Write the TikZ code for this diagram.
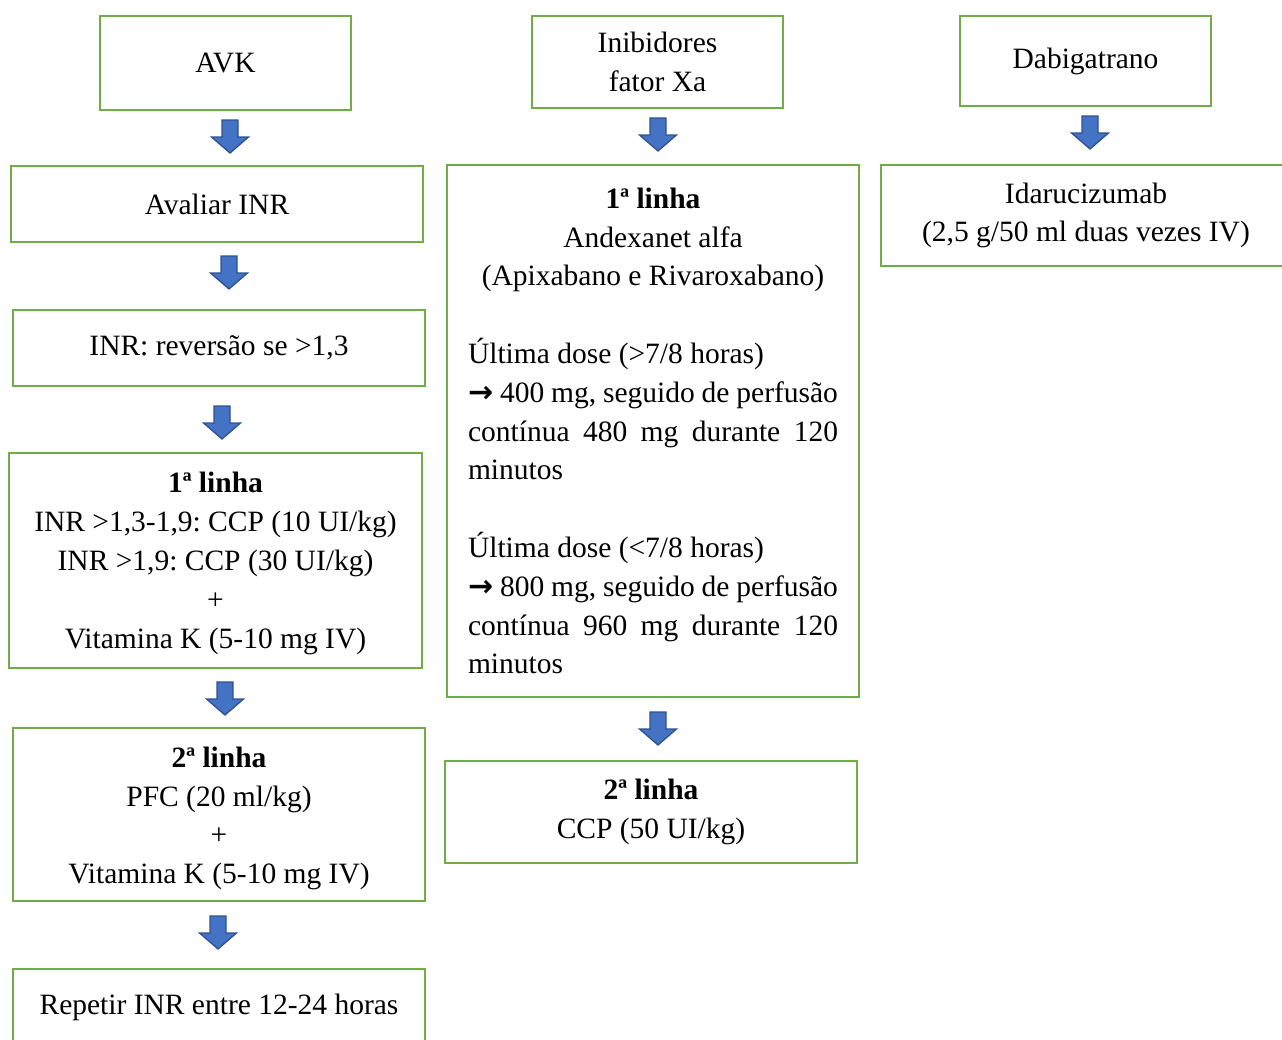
\documentclass[tikz,border=0pt]{standalone}
\usepackage{fontspec}
\usetikzlibrary{calc}
\setmainfont{Liberation Serif}
\newfontfamily\arrowglyph{DejaVu Sans}
\definecolor{boxgreen}{HTML}{70AD47}
\definecolor{arrowfill}{HTML}{4472C4}
\definecolor{arrowline}{HTML}{2F528F}
\newcommand\rarr{{\arrowglyph\bfseries\fontsize{30}{30}\selectfont →}}
\frenchspacing
\begin{document}
\begin{tikzpicture}[x=1pt,y=-1pt,
  steptext/.style={inner sep=0pt,align=center,font=\fontsize{29.5}{38.8}\selectfont},
  stepbox/.style={steptext,draw=boxgreen,line width=2.4pt,rectangle},
  blockarrow/.style={fill=arrowfill,draw=arrowline,line width=1.3pt,line join=miter}]
\useasboundingbox (0,0) rectangle (1282,1039);
\clip (0,0) rectangle (1282,1039);

% down-pointing block arrow: centre x, top y
\newcommand\blockdown[3]{%
  \coordinate (#1) at (#2,#3);
  \draw[blockarrow] ($(#1)+(-8,0)$) -- ++(16,0) -- ++(0,17) -- ++(10.5,0)
    -- ($(#1)+(0,33)$) -- ($(#1)+(-18.5,17)$) -- ++(10.5,0) -- cycle;}

% column 1: AVK
\node[stepbox,minimum width=251pt,minimum height=94pt] (avk) at (225.5,63) {AVK};
\node[stepbox,minimum width=412pt,minimum height=76pt] (avaliar) at (217,204) {Avaliar INR};
\node[stepbox,minimum width=412pt,minimum height=76pt] (reversao) at (219,348) {INR: reversão se >1,3};
\node[stepbox,minimum width=413pt,minimum height=215pt] (avkA) at (215.5,560.5) {};
\node[steptext] (avkAtext) at (215.5,563.5)
  {\textbf{1ª linha}\\INR >1,3-1,9: CCP (10 UI/kg)\\INR >1,9: CCP (30 UI/kg)\\+\\Vitamina K (5-10 mg IV)};
\node[stepbox,minimum width=412pt,minimum height=173pt] (avkB) at (219,814.5) {};
\node[steptext] (avkBtext) at (219,818.5)
  {\textbf{2ª linha}\\PFC (20 ml/kg)\\+\\Vitamina K (5-10 mg IV)};
\node[stepbox,minimum width=412pt,minimum height=76pt] (repetir) at (219,1007) {Repetir INR entre 12-24 horas};

% column 2: factor Xa inhibitors
\node[stepbox,minimum width=251pt,minimum height=92pt] (xa) at (657.5,62) {Inibidores\\fator Xa};
\node[stepbox,minimum width=412pt,minimum height=532pt,align=left] (xaA) at (653,431)
  {\makebox[370pt][c]{\textbf{1ª linha}}\\
   \makebox[370pt][c]{Andexanet alfa}\\
   \makebox[370pt][c]{(Apixabano e Rivaroxabano)}\\[38.8pt]
   Última dose (>7/8 horas)\\
   \makebox[370pt][s]{\rarr{} 400 mg, seguido de perfusão}\\
   \makebox[370pt][s]{contínua 480 mg durante 120}\\
   minutos\\[38.8pt]
   Última dose (<7/8 horas)\\
   \makebox[370pt][s]{\rarr{} 800 mg, seguido de perfusão}\\
   \makebox[370pt][s]{contínua 960 mg durante 120}\\
   minutos};
\node[stepbox,minimum width=412pt,minimum height=102pt] (xaB) at (651,812)
  {\textbf{2ª linha}\\CCP (50 UI/kg)};

% column 3: dabigatran
\node[stepbox,minimum width=251pt,minimum height=90pt] (dab) at (1085.5,61) {Dabigatrano};
\node[stepbox,minimum width=410pt,minimum height=101pt] (ida) at (1086,215.5)
  {Idarucizumab\\(2,5 g/50 ml duas vezes IV)};

% block arrows between steps
\blockdown{a1}{230}{120}
\blockdown{a2}{229}{256}
\blockdown{a3}{222}{406}
\blockdown{a4}{225}{682}
\blockdown{a5}{218}{916}
\blockdown{b1}{658}{118}
\blockdown{b2}{658}{712}
\blockdown{c1}{1090}{116}
\end{tikzpicture}
\end{document}
